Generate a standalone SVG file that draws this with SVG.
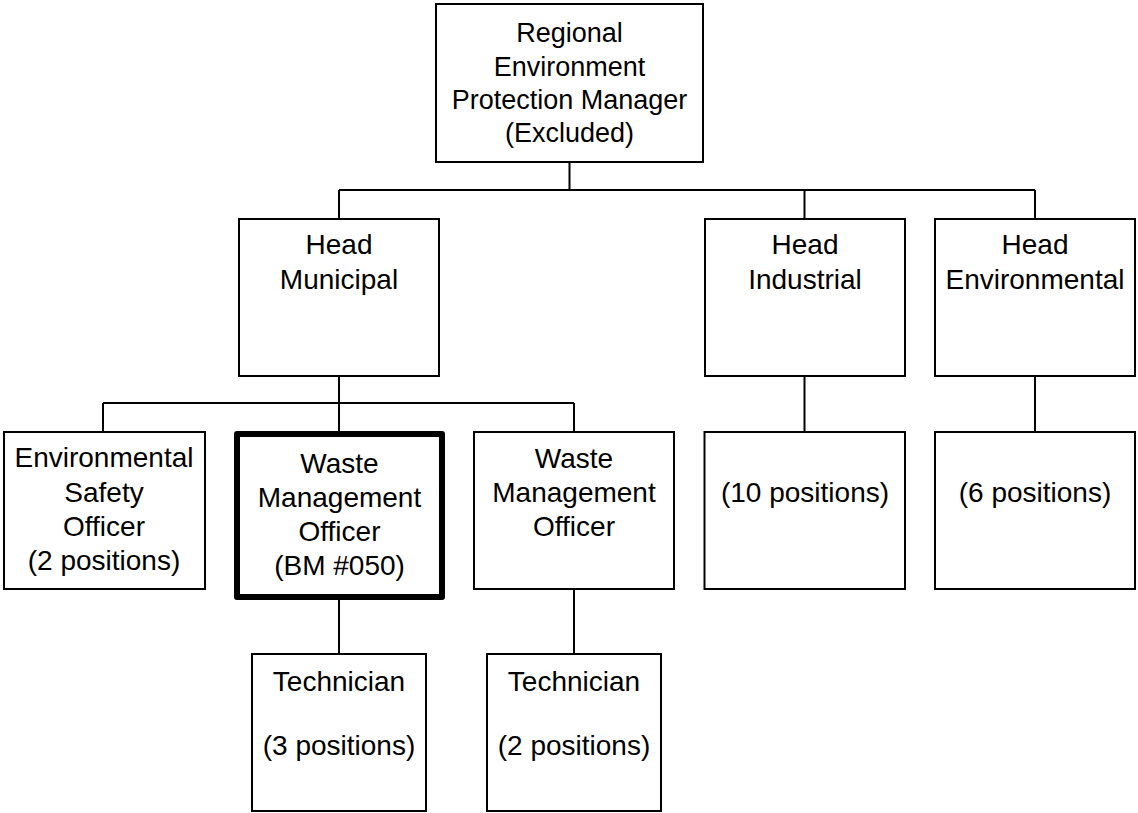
<svg xmlns="http://www.w3.org/2000/svg" width="1138" height="813" viewBox="0 0 1138 813">
<style>
.box{fill:#fff;stroke:#000;stroke-width:2}
.thick{fill:#fff;stroke:#000;stroke-width:6;stroke-linejoin:round}
.t{font-family:"Liberation Sans",Arial,sans-serif;font-size:28px;text-anchor:middle;fill:#000}
.top{font-size:27px}
.c{fill:none;stroke:#000;stroke-width:2}
</style>
<rect width="1138" height="813" fill="#fff"/>
<g id="connectors">
<path class="c" d="M569.5 163V190M339 190H1035M339 190V219M804.5 190V219M1035 190V219"/>
<path class="c" d="M339 377V432M103 403H574M103 403V432M574 403V432"/>
<path class="c" d="M804.5 377V432M1035 377V432"/>
<path class="c" d="M339 600V654M574 590V654"/>
</g>
<g id="n-regional">
<rect class="box" x="436" y="4" width="267" height="158"/>
<text class="t top" x="569.5" y="42">Regional</text>
<text class="t top" x="569.5" y="75.5">Environment</text>
<text class="t top" x="569.5" y="109">Protection Manager</text>
<text class="t top" x="569.5" y="142">(Excluded)</text>
</g>
<g id="n-head-municipal">
<rect class="box" x="239" y="219" width="200" height="157"/>
<text class="t" x="339" y="254">Head</text>
<text class="t" x="339" y="289">Municipal</text>
</g>
<g id="n-head-industrial">
<rect class="box" x="705" y="219" width="200" height="157"/>
<text class="t" x="805" y="254">Head</text>
<text class="t" x="805" y="289">Industrial</text>
</g>
<g id="n-head-environmental">
<rect class="box" x="935" y="219" width="200" height="157"/>
<text class="t" x="1035" y="254">Head</text>
<text class="t" x="1035" y="289">Environmental</text>
</g>
<g id="n-env-safety">
<rect class="box" x="4" y="432" width="201" height="157"/>
<text class="t" x="104" y="467">Environmental</text>
<text class="t" x="104" y="501.5">Safety</text>
<text class="t" x="104" y="536">Officer</text>
<text class="t" x="104" y="570">(2 positions)</text>
</g>
<g id="n-wmo-bm050">
<rect class="thick" x="237" y="434" width="205" height="163"/>
<text class="t" x="339.5" y="472.5">Waste</text>
<text class="t" x="339.5" y="506.5">Management</text>
<text class="t" x="339.5" y="540.5">Officer</text>
<text class="t" x="339.5" y="574.5">(BM #050)</text>
</g>
<g id="n-wmo">
<rect class="box" x="474" y="432" width="200" height="157"/>
<text class="t" x="574" y="467.5">Waste</text>
<text class="t" x="574" y="501.5">Management</text>
<text class="t" x="574" y="535.5">Officer</text>
</g>
<g id="n-industrial-staff">
<rect class="box" x="704.5" y="432" width="200.5" height="157"/>
<text class="t" x="805" y="501.5">(10 positions)</text>
</g>
<g id="n-environmental-staff">
<rect class="box" x="935" y="432" width="200" height="157"/>
<text class="t" x="1035" y="501.5">(6 positions)</text>
</g>
<g id="n-tech-3">
<rect class="box" x="252" y="654" width="174" height="157"/>
<text class="t" x="339" y="691">Technician</text>
<text class="t" x="339" y="755">(3 positions)</text>
</g>
<g id="n-tech-2">
<rect class="box" x="487" y="654" width="174" height="157"/>
<text class="t" x="574" y="691">Technician</text>
<text class="t" x="574" y="755">(2 positions)</text>
</g>
</svg>
